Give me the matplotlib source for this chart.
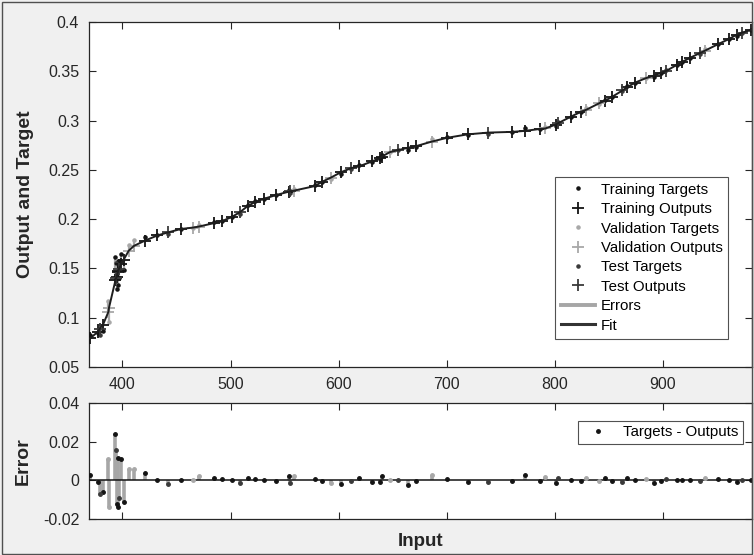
import numpy as np
import matplotlib
matplotlib.use("Agg")
import matplotlib.pyplot as plt
from matplotlib.lines import Line2D
from matplotlib.patches import Rectangle

plt.rcParams['font.family'] = ['Liberation Sans', 'DejaVu Sans']

# Inputs, network outputs, errors (target - output) and data split of each sample
inputs = [370.0, 377.5, 379.0, 382.0, 387.0, 387.5, 393.5, 394.0, 394.5, 395.6,
          396.0, 396.6, 398.4, 401.2, 405.8, 410.8, 420.4, 432.4, 442.0, 454.0,
          465.7, 470.7, 484.9, 492.3, 501.6, 508.6, 516.0, 523.0, 530.5, 542.3,
          554.3, 554.8, 559.0, 577.8, 585.0, 592.6, 602.0, 611.7, 618.8, 630.8,
          638.0, 640.0, 647.5, 655.0, 664.5, 671.6, 686.0, 700.3, 719.4, 738.6,
          760.2, 772.2, 786.4, 791.4, 801.0, 803.4, 815.0, 824.4, 829.3, 841.0,
          846.3, 853.0, 862.6, 867.3, 874.4, 884.3, 891.4, 898.4, 903.4, 913.0,
          917.9, 925.0, 934.3, 939.2, 951.2, 960.8, 968.2, 972.9, 982.0]
outputs = [0.0790, 0.0860, 0.0890, 0.0930, 0.1060, 0.1100, 0.1380, 0.1400, 0.1410, 0.1460,
           0.1470, 0.1490, 0.1540, 0.1590, 0.1680, 0.1730, 0.1780, 0.1835, 0.1865, 0.1900,
           0.1915, 0.1925, 0.1960, 0.1980, 0.2025, 0.2070, 0.2134, 0.2175, 0.2205, 0.2245,
           0.2280, 0.2282, 0.2290, 0.2335, 0.2380, 0.2420, 0.2475, 0.2518, 0.2535, 0.2585,
           0.2617, 0.2635, 0.2680, 0.2700, 0.2725, 0.2740, 0.2786, 0.2825, 0.2860, 0.2878,
           0.2885, 0.2895, 0.2915, 0.2920, 0.2960, 0.2975, 0.3040, 0.3090, 0.3110, 0.3175,
           0.3200, 0.3240, 0.3305, 0.3340, 0.3385, 0.3430, 0.3455, 0.3485, 0.3505, 0.3565,
           0.3595, 0.3635, 0.3685, 0.3710, 0.3775, 0.3825, 0.3870, 0.3890, 0.3920]
errors = [0.0030, -0.0010, -0.0070, -0.0060, 0.0110, -0.0140, 0.0238, 0.0155, -0.0120, 0.0114,
          -0.0140, -0.0090, 0.0110, -0.0110, 0.0060, 0.0060, 0.0040, 0.0000, -0.0020, 0.0000,
          0.0000, 0.0020, 0.0010, 0.0005, 0.0000, -0.0015, 0.0010, 0.0007, 0.0002, -0.0005,
          0.0020, -0.0015, 0.0020, 0.0007, -0.0005, -0.0015, -0.0020, -0.0005, 0.0010, -0.0010,
          -0.0010, 0.0020, 0.0003, 0.0000, -0.0025, -0.0005, 0.0025, 0.0005, -0.0007, -0.0010,
          -0.0002, 0.0025, -0.0002, 0.0015, -0.0015, 0.0012, 0.0001, -0.0005, 0.0013, -0.0004,
          0.0012, -0.0006, -0.0010, 0.0010, 0.0000, 0.0005, -0.0013, -0.0006, 0.0008, 0.0000,
          0.0000, 0.0003, -0.0006, 0.0013, 0.0006, 0.0000, -0.0009, 0.0000, 0.0000]
split = ['train', 'train', 'test', 'train', 'val', 'val', 'train', 'test', 'train', 'train',
         'train', 'test', 'train', 'train', 'val', 'val', 'train', 'train', 'test', 'train',
         'val', 'val', 'train', 'train', 'train', 'test', 'train', 'train', 'train', 'train',
         'train', 'test', 'val', 'train', 'train', 'val', 'train', 'test', 'train', 'train',
         'train', 'train', 'val', 'test', 'train', 'train', 'val', 'train', 'train', 'test',
         'train', 'train', 'train', 'val', 'train', 'test', 'train', 'train', 'val', 'val',
         'train', 'train', 'test', 'train', 'train', 'val', 'train', 'train', 'test', 'train',
         'train', 'train', 'test', 'val', 'train', 'train', 'train', 'test', 'train']

x = np.array(inputs)
y_out = np.array(outputs)
err = np.array(errors)
y_tgt = y_out + err
sets = np.array(split)

styles = {
    'train': dict(color='#141414', name='Training'),
    'val':   dict(color='#a8a8a8', name='Validation'),
    'test':  dict(color='#3a3a3a', name='Test'),
}
ERR_COLOR = '#a6a6a6'
FIT_COLOR = '#1e1e1e'
TEXT = '#262626'
BG = '#f0f0f0'

fig = plt.figure(figsize=(7.54, 5.55), dpi=100, facecolor=BG)
ax1 = fig.add_axes([0.118, 0.3387, 0.8793, 0.6217])
ax2 = fig.add_axes([0.118, 0.0649, 0.8793, 0.2090])

for ax in (ax1, ax2):
    ax.set_facecolor('white')
    ax.tick_params(direction='in', top=True, right=True, length=5, width=0.8,
                   labelsize=11.5, colors=TEXT, pad=7)
    for s in ax.spines.values():
        s.set_color(TEXT)
        s.set_linewidth(0.9)

# ---- fit panel ----
ax1.vlines(x, y_out, y_tgt, color=ERR_COLOR, lw=1.6, zorder=2)
handles = []
for key in ('train', 'val', 'test'):
    m = sets == key
    c = styles[key]['color']
    h1, = ax1.plot(x[m], y_tgt[m], ls='none', marker='.', ms=4.5, color=c, zorder=3,
                   label=f"{styles[key]['name']} Targets")
    h2, = ax1.plot(x[m], y_out[m], ls='none', marker='+', ms=8.5, mew=1.3, color=c, zorder=4,
                   label=f"{styles[key]['name']} Outputs")
    handles += [h1, h2]
order = np.argsort(x)
ax1.plot(x[order], y_out[order], color=FIT_COLOR, lw=1.4, zorder=5)
herr = Line2D([], [], color=ERR_COLOR, lw=2.8, label='Errors')
hfit = Line2D([], [], color='#333333', lw=2.2, label='Fit')
handles += [herr, hfit]

ax1.set_xlim(369, 982.5)
ax1.set_ylim(0.05, 0.4)
ax1.set_xticks([400, 500, 600, 700, 800, 900])
ax1.set_yticks([0.05, 0.1, 0.15, 0.2, 0.25, 0.3, 0.35, 0.4])
ax1.set_yticklabels(['0.05', '0.1', '0.15', '0.2', '0.25', '0.3', '0.35', '0.4'])
ax1.set_ylabel('Output and Target', fontsize=14, fontweight='bold', color=TEXT, labelpad=10)

leg1 = ax1.legend(handles=handles, loc='upper right', bbox_to_anchor=(0.9645, 0.5515),
                  fontsize=10.8, frameon=True, fancybox=False, edgecolor=TEXT,
                  handlelength=2.3, handletextpad=0.35, labelspacing=0.36,
                  borderpad=0.4, borderaxespad=0)
leg1.get_frame().set_linewidth(0.8)

# ---- error panel ----
ax2.axhline(0, color='#141414', lw=1.1, zorder=3)
ax2.vlines(x, 0, err, color=ERR_COLOR, lw=2.6, zorder=2)
for key in ('train', 'val', 'test'):
    m = sets == key
    ax2.plot(x[m], err[m], ls='none', marker='.', ms=5, color=styles[key]['color'], zorder=4)
ax2.set_xlim(369, 982.5)
ax2.set_ylim(-0.02, 0.04)
ax2.set_xticks([400, 500, 600, 700, 800, 900])
ax2.set_xticklabels([])
ax2.set_yticks([-0.02, 0, 0.02, 0.04])
ax2.set_yticklabels(['-0.02', '0', '0.02', '0.04'])
ax2.set_ylabel('Error', fontsize=14, fontweight='bold', color=TEXT, labelpad=8)
ax2.set_xlabel('Input', fontsize=13.5, fontweight='bold', color=TEXT, labelpad=3)

hd = Line2D([], [], ls='none', marker='.', ms=5, color='#141414', label='Targets - Outputs')
leg2 = ax2.legend(handles=[hd], loc='upper right', bbox_to_anchor=(0.9865, 0.845),
                  fontsize=10.8, frameon=True, fancybox=False, edgecolor=TEXT,
                  handlelength=2.0, handletextpad=0.7, borderpad=0.3, borderaxespad=0)
leg2.get_frame().set_linewidth(0.8)

# thin frame around the figure window
fig.patches.append(Rectangle((0.002, 0.002), 0.996, 0.995, transform=fig.transFigure,
                             fill=False, edgecolor='#505050', lw=1.0))

fig.savefig('out.png', dpi=100, facecolor=BG)
